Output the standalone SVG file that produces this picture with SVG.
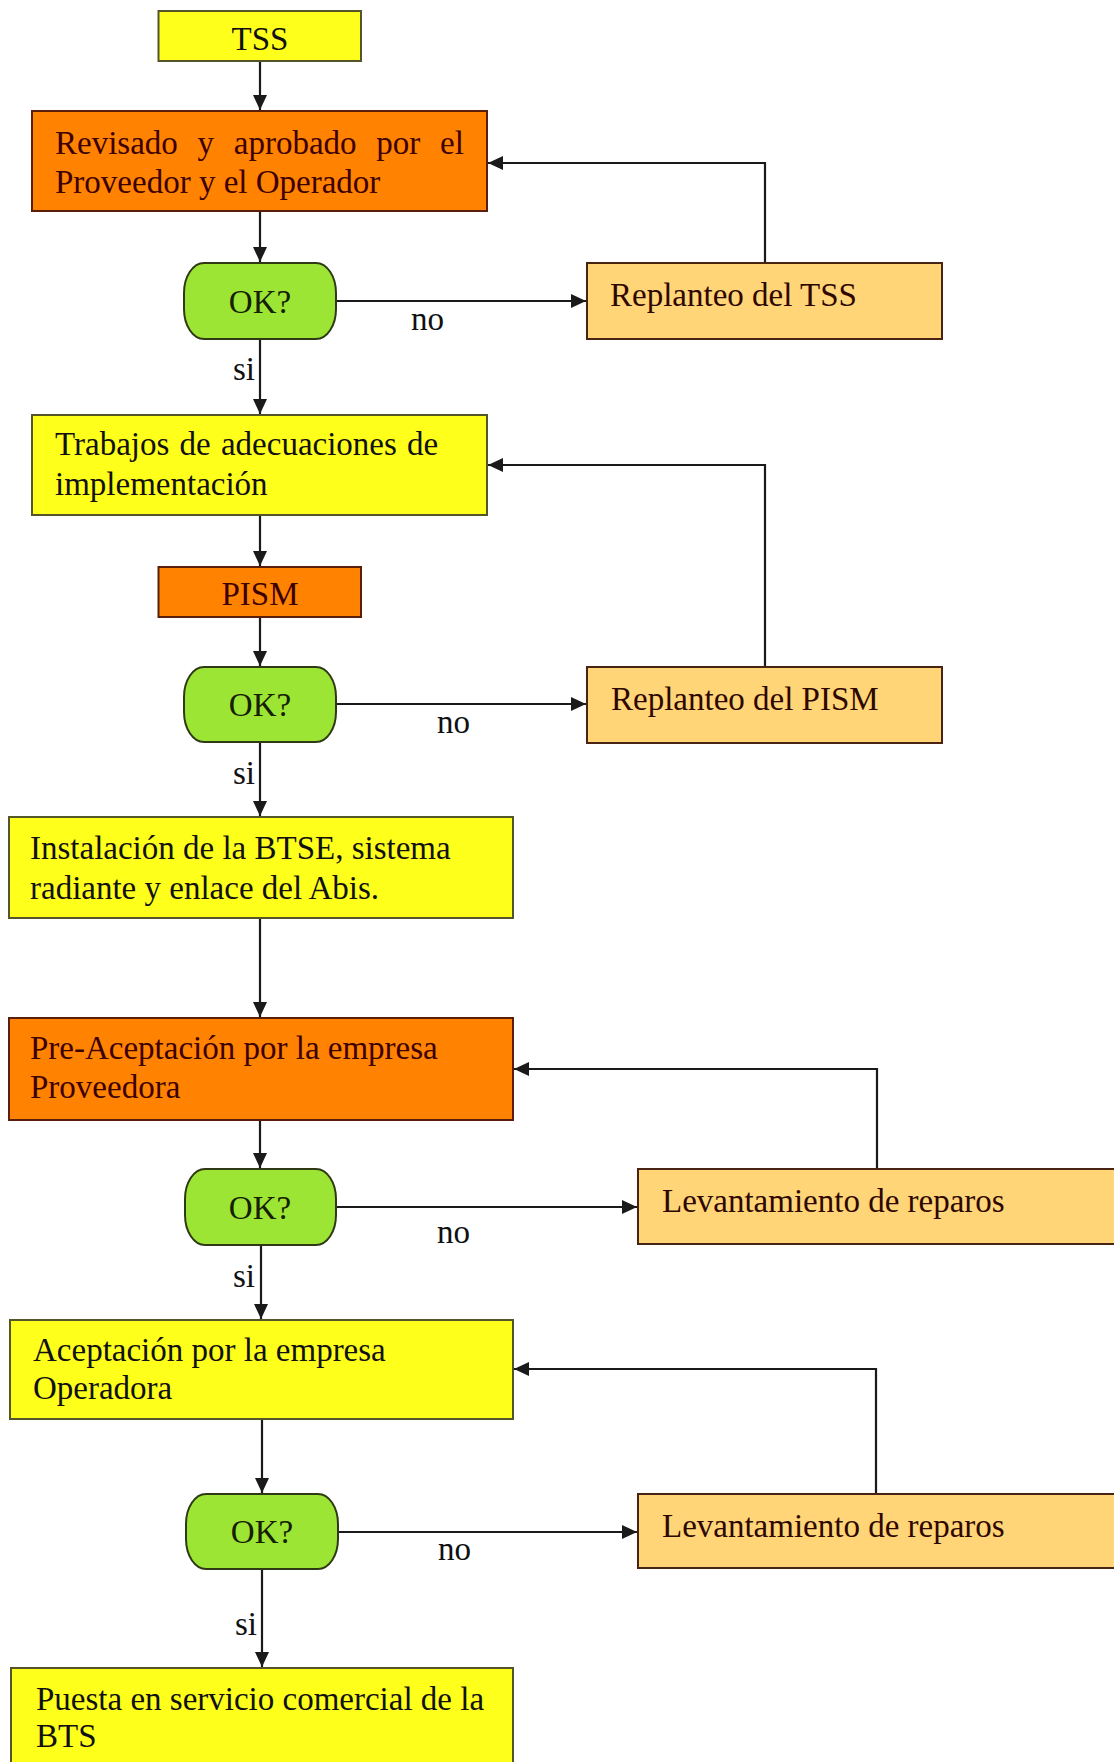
<svg xmlns="http://www.w3.org/2000/svg" width="1114" height="1762" viewBox="0 0 1114 1762">
<style>
text{font-family:"Liberation Serif","Times New Roman",serif;font-size:33px}
.y{fill:#FFFF1C;stroke:#55552a;stroke-width:2}
.o{fill:#FF8200;stroke:#5a1e0a;stroke-width:2}
.g{fill:#9DE535;stroke:#2f3a14;stroke-width:2}
.l{fill:#FFD577;stroke:#4a2412;stroke-width:2}
.ty{fill:#111}
.to{fill:#3d0000}
.tl{fill:#2e0800}
.tg{fill:#142000}
.lbl{fill:#111}
.c{fill:none;stroke:#1a1a1a;stroke-width:2.2}
</style>
<defs>
<marker id="ah" markerUnits="userSpaceOnUse" markerWidth="16" markerHeight="14" refX="15" refY="7" orient="auto">
<path d="M0,0 L15,7 L0,14 z" fill="#1a1a1a"/>
</marker>
</defs>
<rect width="1114" height="1762" fill="#fff"/>
<g id="connectors">
<path class="c" d="M260,61 V110" marker-end="url(#ah)"/>
<path class="c" d="M260,211 V262" marker-end="url(#ah)"/>
<path class="c" d="M336,301 H586" marker-end="url(#ah)"/>
<path class="c" d="M765,263 V163 H488" marker-end="url(#ah)"/>
<path class="c" d="M260,339 V414" marker-end="url(#ah)"/>
<path class="c" d="M260,515 V566" marker-end="url(#ah)"/>
<path class="c" d="M260,617 V666" marker-end="url(#ah)"/>
<path class="c" d="M336,704 H586" marker-end="url(#ah)"/>
<path class="c" d="M765,667 V465 H488" marker-end="url(#ah)"/>
<path class="c" d="M260,742 V816" marker-end="url(#ah)"/>
<path class="c" d="M260,918 V1017" marker-end="url(#ah)"/>
<path class="c" d="M260,1120 V1168" marker-end="url(#ah)"/>
<path class="c" d="M336,1207 H637" marker-end="url(#ah)"/>
<path class="c" d="M877,1169 V1069 H514" marker-end="url(#ah)"/>
<path class="c" d="M261,1245 V1319" marker-end="url(#ah)"/>
<path class="c" d="M262,1419 V1493" marker-end="url(#ah)"/>
<path class="c" d="M338,1532 H637" marker-end="url(#ah)"/>
<path class="c" d="M876,1494 V1369 H514" marker-end="url(#ah)"/>
<path class="c" d="M262,1569 V1667" marker-end="url(#ah)"/>
<text class="lbl" x="411" y="330">no</text>
<text class="lbl" x="233" y="380">si</text>
<text class="lbl" x="437" y="733">no</text>
<text class="lbl" x="233" y="784">si</text>
<text class="lbl" x="437" y="1243">no</text>
<text class="lbl" x="233" y="1287">si</text>
<text class="lbl" x="438" y="1560">no</text>
<text class="lbl" x="235" y="1635">si</text>
</g>
<g id="tss">
<rect class="y" x="158.5" y="11" width="202.5" height="50"/>
<text class="ty" x="260" y="50" text-anchor="middle">TSS</text>
</g>
<g id="revisado">
<rect class="o" x="32" y="111" width="455" height="100"/>
<text class="to" x="55" y="154" word-spacing="11.5">Revisado y aprobado por el</text>
<text class="to" x="55" y="193">Proveedor y el Operador</text>
</g>
<g id="ok1">
<rect class="g" x="184" y="263" width="152" height="76" rx="20" ry="30"/>
<text class="tg" x="260" y="313" text-anchor="middle">OK?</text>
</g>
<g id="replanteo-tss">
<rect class="l" x="587" y="263" width="355" height="76"/>
<text class="tl" x="610" y="306">Replanteo del TSS</text>
</g>
<g id="trabajos">
<rect class="y" x="32" y="415" width="455" height="100"/>
<text class="ty" x="55" y="455" word-spacing="2">Trabajos de adecuaciones de</text>
<text class="ty" x="55" y="495">implementación</text>
</g>
<g id="pism">
<rect class="o" x="158.5" y="567" width="202.5" height="50"/>
<text class="to" x="260" y="605" text-anchor="middle">PISM</text>
</g>
<g id="ok2">
<rect class="g" x="184" y="667" width="152" height="75" rx="20" ry="30"/>
<text class="tg" x="260" y="716" text-anchor="middle">OK?</text>
</g>
<g id="replanteo-pism">
<rect class="l" x="587" y="667" width="355" height="76"/>
<text class="tl" x="611" y="710">Replanteo del PISM</text>
</g>
<g id="instalacion">
<rect class="y" x="9" y="817" width="504" height="101"/>
<text class="ty" x="30" y="859">Instalación de la BTSE, sistema</text>
<text class="ty" x="30" y="899">radiante y enlace del Abis.</text>
</g>
<g id="preaceptacion">
<rect class="o" x="9" y="1018" width="504" height="102"/>
<text class="to" x="30" y="1059">Pre-Aceptación por la empresa</text>
<text class="to" x="30" y="1098">Proveedora</text>
</g>
<g id="ok3">
<rect class="g" x="185" y="1169" width="151" height="76" rx="20" ry="30"/>
<text class="tg" x="260" y="1219" text-anchor="middle">OK?</text>
</g>
<g id="levantamiento1">
<rect class="l" x="638" y="1169" width="490" height="75"/>
<text class="tl" x="662" y="1212">Levantamiento de reparos</text>
</g>
<g id="aceptacion">
<rect class="y" x="10" y="1320" width="503" height="99"/>
<text class="ty" x="33" y="1361">Aceptación por la empresa</text>
<text class="ty" x="33" y="1399">Operadora</text>
</g>
<g id="ok4">
<rect class="g" x="186" y="1494" width="152" height="75" rx="20" ry="30"/>
<text class="tg" x="262" y="1543" text-anchor="middle">OK?</text>
</g>
<g id="levantamiento2">
<rect class="l" x="638" y="1494" width="490" height="74"/>
<text class="tl" x="662" y="1537">Levantamiento de reparos</text>
</g>
<g id="puesta">
<rect class="y" x="11" y="1668" width="502" height="110"/>
<text class="ty" x="36" y="1710">Puesta en servicio comercial de la</text>
<text class="ty" x="36" y="1747">BTS</text>
</g>
</svg>
